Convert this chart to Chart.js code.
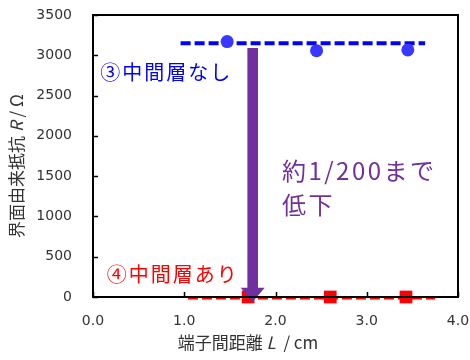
<!DOCTYPE html>
<html><head><meta charset="utf-8">
<script src="https://cdn.jsdelivr.net/npm/chart.js@4/dist/chart.umd.min.js"></script>
<style>html,body{margin:0;padding:0;background:#fff}#wrap{width:470px;height:360px}</style>
</head><body><div id="wrap"><canvas id="c"></canvas></div>
<script>
// ---- data ----
const xTicks = [0, 1, 2, 3, 4];
const yTicks = [0, 500, 1000, 1500, 2000, 2500, 3000, 3500];
const noLayerX = [1.47, 2.45, 3.45];
const noLayerY = [3170, 3057, 3066];
const noLayerFitX = [0.96, 3.64];
const noLayerFitY = [3150, 3150];
const withLayerX = [1.70, 2.60, 3.43];
const withLayerY = [0, 0, 0];
const withLayerFitX = [1.04, 3.75];
const withLayerFitY = [-8, -8];
const arrowX = 1.75, arrowTopY = 3090, arrowTipY = -60;
const labels = [
  {text: '③中間層なし', x: 0.08, y: 2790, color: '#0000ff', size: 20, sp: 2},
  {text: '④中間層あり', x: 0.15, y: 280, color: '#ff0000', size: 20, sp: 2},
  {text: '約1/200まで', x: 2.07, y: 1570, color: '#7030a0', size: 24, sp: 2.5},
  {text: '低下', x: 2.07, y: 1140, color: '#7030a0', size: 24, sp: 2.5}
];
const xTitle = ['端子間距離 ', 'L', '  / cm'];
const yTitle = ['界面由来抵抗 ', 'R', ' / Ω'];

const pts = (xs, ys) => xs.map((x, i) => ({x, y: ys[i]}));
const CJK = '"Noto Sans CJK JP", "Noto Sans", sans-serif';

const deco = {
  id: 'deco',
  afterDatasetsDraw(chart) {
    const ctx = chart.ctx, xs = chart.scales.x, ys = chart.scales.y;
    const ax = xs.getPixelForValue(arrowX), ay0 = ys.getPixelForValue(arrowTopY), ay1 = ys.getPixelForValue(arrowTipY);
    const headH = 14, headW = 12, barW = 5.3;
    ctx.save();
    ctx.fillStyle = '#7030a0';
    ctx.beginPath();
    ctx.moveTo(ax - barW, ay0); ctx.lineTo(ax + barW, ay0);
    ctx.lineTo(ax + barW, ay1 - headH); ctx.lineTo(ax + headW, ay1 - headH);
    ctx.lineTo(ax, ay1); ctx.lineTo(ax - headW, ay1 - headH);
    ctx.lineTo(ax - barW, ay1 - headH); ctx.closePath(); ctx.fill();
    ctx.textBaseline = 'middle'; ctx.textAlign = 'left';
    labels.forEach(l => {
      ctx.fillStyle = l.color; ctx.font = l.size + 'px ' + CJK;
      ctx.letterSpacing = l.sp + 'px';
      ctx.fillText(l.text, xs.getPixelForValue(l.x), ys.getPixelForValue(l.y));
    });
    ctx.letterSpacing = '0px';
    ctx.restore();
  },
  afterDraw(chart) {
    const ctx = chart.ctx, a = chart.chartArea, xs = chart.scales.x, ys = chart.scales.y;
    ctx.save();
    ctx.strokeStyle = '#000'; ctx.lineWidth = 2;
    ctx.strokeRect(a.left, a.top, a.right - a.left, a.bottom - a.top);
    ctx.lineWidth = 1.5;
    ctx.beginPath();
    yTicks.forEach(v => { const p = Math.round(ys.getPixelForValue(v)) + 0.5; ctx.moveTo(a.left, p); ctx.lineTo(a.left + 5, p); });
    xTicks.forEach(v => { const p = Math.round(xs.getPixelForValue(v)) + 0.5; ctx.moveTo(p, a.bottom); ctx.lineTo(p, a.bottom - 5); });
    ctx.stroke();
    const drawParts = (parts, size) => {
      const fonts = [size + 'px ' + CJK, 'italic ' + size + 'px ' + CJK, size + 'px ' + CJK];
      let w = 0; const ws = parts.map((t, i) => { ctx.font = fonts[i]; const m = ctx.measureText(t).width; w += m; return m; });
      let x = -w / 2;
      parts.forEach((t, i) => { ctx.font = fonts[i]; ctx.fillText(t, x, 0); x += ws[i]; });
    };
    ctx.fillStyle = '#333'; ctx.textBaseline = 'middle'; ctx.textAlign = 'left';
    ctx.save(); ctx.translate(248, 343); drawParts(xTitle, 17); ctx.restore();
    ctx.save(); ctx.translate(17, 166); ctx.rotate(-Math.PI / 2); drawParts(yTitle, 17); ctx.restore();
    ctx.restore();
  }
};

new Chart(document.getElementById('c'), {
  type: 'scatter',
  data: {
    datasets: [
      {data: pts(noLayerFitX, noLayerFitY), showLine: true, borderColor: '#0000ff', borderWidth: 4, borderDash: [10, 4], pointRadius: 0, order: 3, clip: false},
      {data: pts(noLayerX, noLayerY), backgroundColor: '#3838ff', borderWidth: 0, pointRadius: 6.5, order: 1, clip: false},
      {data: pts(withLayerFitX, withLayerFitY), showLine: true, borderColor: '#ff0000', borderWidth: 3.5, borderDash: [10, 4], pointRadius: 0, order: 4, clip: false},
      {data: pts(withLayerX, withLayerY), backgroundColor: '#ff0000', borderWidth: 0, pointStyle: 'rect', pointRadius: 9, order: 2, clip: false}
    ]
  },
  options: {
    responsive: true, maintainAspectRatio: false, animation: false,
    devicePixelRatio: 1,
    layout: {padding: {left: 0, top: 15, right: 12, bottom: 0}},
    plugins: {legend: {display: false}, tooltip: {enabled: false}},
    scales: {
      x: {
        type: 'linear', min: 0, max: 4,
        afterBuildTicks: s => { s.ticks = xTicks.map(v => ({value: v})); },
        afterFit: s => { s.height = 63; s.paddingLeft = 0; s.paddingRight = 0; },
        grid: {display: false, drawTicks: false},
        border: {display: false},
        ticks: {padding: 16, color: '#333', font: {family: 'DejaVu Sans', size: 14}, callback: v => v.toFixed(1), maxRotation: 0, autoSkip: false}
      },
      y: {
        type: 'linear', min: 0, max: 3500,
        afterBuildTicks: s => { s.ticks = yTicks.map(v => ({value: v})); },
        afterFit: s => { s.width = 93; s.paddingTop = 0; s.paddingBottom = 0; },
        grid: {display: false, drawTicks: false},
        border: {display: false},
        ticks: {padding: 21, color: '#333', font: {family: 'DejaVu Sans', size: 14}, callback: v => String(v), autoSkip: false}
      }
    }
  },
  plugins: [deco]
});
</script></body></html>
